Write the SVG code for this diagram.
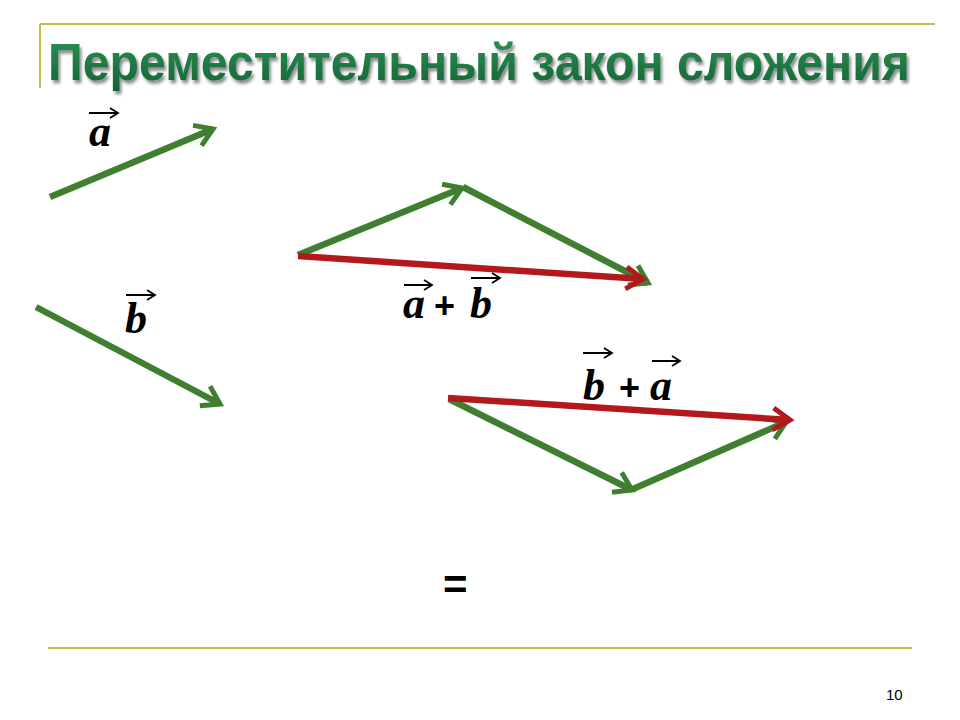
<svg xmlns="http://www.w3.org/2000/svg" width="960" height="720" viewBox="0 0 960 720">
<defs>
<style>
.rule{stroke:#c9b74f;stroke-width:2;fill:none}
.g{stroke:#3f7f2f;stroke-width:6.5;fill:none;stroke-linecap:butt}
.r{stroke:#b3191c;stroke-width:6.5;fill:none}
.lbl{font-family:"Liberation Serif",serif;font-style:italic;font-weight:bold;font-size:44px;fill:#000}
.op{font-family:"Liberation Sans",Arial,sans-serif;font-weight:bold;font-size:36px;fill:#000}
.va{stroke:#000;stroke-width:2;fill:none}
</style>
<marker id="hg" markerUnits="userSpaceOnUse" markerWidth="40" markerHeight="40" refX="0" refY="0" viewBox="-22 -20 26 40" orient="auto">
<path d="M-17,-11 L0,0 L-17,11" stroke="#3f7f2f" stroke-width="5" fill="none"/>
</marker>
<marker id="hr" markerUnits="userSpaceOnUse" markerWidth="40" markerHeight="40" refX="0" refY="0" viewBox="-22 -20 26 40" orient="auto">
<path d="M-17,-11 L0,0 L-17,11" stroke="#b3191c" stroke-width="5" fill="none"/>
</marker>
<marker id="hs" markerUnits="userSpaceOnUse" markerWidth="16" markerHeight="16" refX="0" refY="0" viewBox="-10 -8 12 16" orient="auto">
<path d="M-8,-5 L0,0 L-8,5" stroke="#000" stroke-width="1.8" fill="none"/>
</marker>
<filter id="ts" x="-5%" y="-20%" width="110%" height="150%">
<feDropShadow dx="2" dy="3" stdDeviation="1.5" flood-color="#000" flood-opacity="0.45"/>
</filter>
<linearGradient id="tg" x1="0" y1="0" x2="0" y2="1">
<stop offset="0" stop-color="#2b9455"/>
<stop offset="1" stop-color="#166236"/>
</linearGradient>
</defs>
<rect width="960" height="720" fill="#fff"/>
<g id="frame">
<path class="rule" d="M40,24 H935 M40,24 V88"/>
<path class="rule" d="M48,648 H912"/>
</g>
<g id="title">
<text transform="translate(48,80) scale(1,1.1)" x="0" y="0" font-family="'Liberation Sans',Arial,sans-serif" font-weight="bold" font-size="47" fill="url(#tg)" filter="url(#ts)" textLength="862" lengthAdjust="spacingAndGlyphs">Переместительный закон сложения</text>
</g>
<g id="connectors">
<g id="vec-a">
<line class="g" x1="50" y1="197" x2="213" y2="129" marker-end="url(#hg)"/>
</g>
<g id="vec-b">
<line class="g" x1="36" y1="307" x2="220" y2="404" marker-end="url(#hg)"/>
</g>
<g id="tri1">
<line class="g" x1="298" y1="255" x2="462" y2="188" marker-end="url(#hg)"/>
<line class="g" x1="463" y1="187" x2="648" y2="283" marker-end="url(#hg)"/>
<line class="r" x1="298" y1="256" x2="643" y2="279" marker-end="url(#hr)"/>
</g>
<g id="tri2">
<line class="g" x1="449" y1="399" x2="632" y2="490" marker-end="url(#hg)"/>
<line class="g" x1="633" y1="489" x2="786" y2="422" marker-end="url(#hg)"/>
<line class="r" x1="448" y1="398" x2="790" y2="420" marker-end="url(#hr)"/>
</g>
</g>
<g id="label-a">
<text class="lbl" x="89" y="146">a</text>
<line class="va" x1="89" y1="113" x2="118" y2="113" marker-end="url(#hs)"/>
</g>
<g id="label-b">
<text class="lbl" x="125" y="333">b</text>
<line class="va" x1="126" y1="295" x2="155" y2="295" marker-end="url(#hs)"/>
</g>
<g id="label-sum1">
<text class="lbl" x="403" y="318">a</text>
<line class="va" x1="404" y1="285" x2="432" y2="285" marker-end="url(#hs)"/>
<text class="op" x="434" y="318">+</text>
<text class="lbl" x="470" y="318">b</text>
<line class="va" x1="471" y1="278" x2="500" y2="278" marker-end="url(#hs)"/>
</g>
<g id="label-sum2">
<text class="lbl" x="583" y="400">b</text>
<line class="va" x1="583" y1="353" x2="612" y2="353" marker-end="url(#hs)"/>
<text class="op" x="619" y="400">+</text>
<text class="lbl" x="650" y="400">a</text>
<line class="va" x1="652" y1="361" x2="680" y2="361" marker-end="url(#hs)"/>
</g>
<g id="equals">
<text x="443" y="599" font-family="'Liberation Sans',Arial,sans-serif" font-weight="bold" font-size="42" fill="#000">=</text>
</g>
<g id="page">
<text x="886" y="700" font-family="'Liberation Sans',Arial,sans-serif" font-size="15" fill="#000">10</text>
</g>
</svg>
